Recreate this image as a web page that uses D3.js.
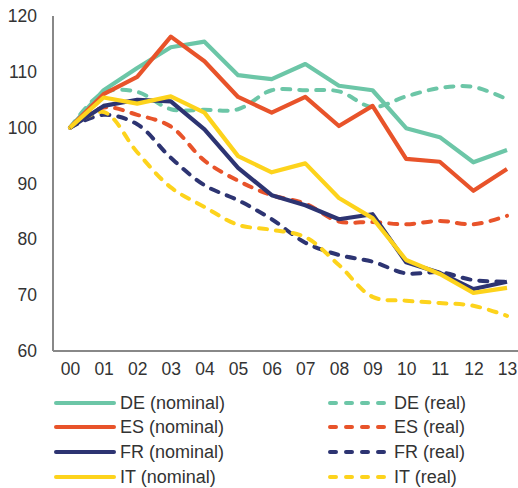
<!DOCTYPE html>
<html>
<head>
<meta charset="utf-8">
<script src="https://cdn.jsdelivr.net/npm/d3@7"></script>
<style>
  body { margin: 0; background: #fff; }
  svg text { font-family: "Liberation Sans", Arial, sans-serif; fill: #333; }
</style>
</head>
<body>
<svg id="chart" width="518" height="488"></svg>
<script>
// years on the x axis
var years = ["00","01","02","03","04","05","06","07","08","09","10","11","12","13"];
var yTicks = [60, 70, 80, 90, 100, 110, 120];

// index, 2000 = 100
var deNominal = [100, 106.7, 110.7, 114.4, 115.4, 109.4, 108.7, 111.4, 107.5, 106.7, 99.9, 98.3, 93.8, 96.0];
var esNominal = [100, 106.0, 109.1, 116.3, 111.9, 105.5, 102.7, 105.5, 100.3, 103.9, 94.4, 93.9, 88.7, 92.6];
var frNominal = [100, 103.9, 105.0, 104.7, 99.7, 92.8, 87.9, 86.1, 83.6, 84.5, 75.9, 74.0, 71.1, 72.4];
var itNominal = [100, 105.4, 104.3, 105.6, 102.7, 94.9, 92.0, 93.6, 87.4, 83.8, 76.3, 73.8, 70.4, 71.3];

var deReal = [100, 106.3, 106.4, 103.3, 103.2, 103.3, 106.7, 106.7, 106.5, 103.7, 105.6, 107.1, 107.3, 105.1];
var esReal = [100, 103.6, 102.3, 100.2, 94.1, 90.5, 87.9, 86.4, 83.2, 83.1, 82.7, 83.3, 82.7, 84.2];
var frReal = [100, 102.3, 100.6, 94.6, 89.7, 87.0, 83.6, 79.4, 77.2, 76.0, 73.9, 74.1, 72.7, 72.4];
var itReal = [100, 102.8, 95.6, 89.3, 85.8, 82.6, 81.7, 80.4, 75.4, 69.7, 69.0, 68.6, 68.1, 66.3];

var seriesNames = ["DE (nominal)", "ES (nominal)", "FR (nominal)", "IT (nominal)",
                   "DE (real)", "ES (real)", "FR (real)", "IT (real)"];
var colors = ["#6cc6a7", "#e8532a", "#2d3472", "#fdd31c"];

var series = [
  {name: seriesNames[0], values: deNominal, color: colors[0], dashed: false},
  {name: seriesNames[1], values: esNominal, color: colors[1], dashed: false},
  {name: seriesNames[2], values: frNominal, color: colors[2], dashed: false},
  {name: seriesNames[3], values: itNominal, color: colors[3], dashed: false},
  {name: seriesNames[4], values: deReal, color: colors[0], dashed: true},
  {name: seriesNames[5], values: esReal, color: colors[1], dashed: true},
  {name: seriesNames[6], values: frReal, color: colors[2], dashed: true},
  {name: seriesNames[7], values: itReal, color: colors[3], dashed: true}
];

var svg = d3.select("#chart");
var axisX = 53;

var x = d3.scaleLinear().domain([0, years.length - 1]).range([70, 507]);
var y = d3.scaleLinear().domain([60, 120]).range([351, 16]);

// axis lines
svg.append("line")
   .attr("x1", axisX).attr("x2", axisX)
   .attr("y1", y(120)).attr("y2", y(60))
   .attr("stroke", "#888").attr("stroke-width", 2);
svg.append("line")
   .attr("x1", axisX).attr("x2", 518)
   .attr("y1", y(60)).attr("y2", y(60))
   .attr("stroke", "#888").attr("stroke-width", 2);

var yAxis = d3.axisLeft(y).tickValues(yTicks).tickSize(0).tickPadding(0);
var gy = svg.append("g")
   .attr("transform", "translate(37,0)")
   .call(yAxis);
gy.select(".domain").remove();
gy.selectAll("text").style("font-size", "17.5px").style("fill", "#333")
  .style("font-family", "Liberation Sans, Arial, sans-serif");

var xAxis = d3.axisBottom(x).tickValues(d3.range(years.length))
              .tickFormat(function(i){ return years[i]; })
              .tickSize(0).tickPadding(0);
var gx = svg.append("g")
   .attr("transform", "translate(0,363)")
   .call(xAxis);
gx.select(".domain").remove();
gx.selectAll("text").style("font-size", "17.5px").style("fill", "#333")
  .style("font-family", "Liberation Sans, Arial, sans-serif");

var lineStraight = d3.line()
    .x(function(d,i){ return x(i); })
    .y(function(d){ return y(d); });
var lineSmooth = d3.line()
    .curve(d3.curveCatmullRom.alpha(0.5))
    .x(function(d,i){ return x(i); })
    .y(function(d){ return y(d); });

// draw real lines first, nominal on top
var drawOrder = [4,5,6,7,0,1,2,3];
drawOrder.forEach(function(k){
  var s = series[k];
  svg.append("path")
     .datum(s.values)
     .attr("fill", "none")
     .attr("stroke", s.color)
     .attr("stroke-width", s.dashed ? 4 : 4.2)
     .attr("stroke-linejoin", "round")
     .attr("stroke-linecap", s.dashed ? "round" : "butt")
     .attr("stroke-dasharray", s.dashed ? "8,9" : null)
     .attr("d", s.dashed ? lineSmooth(s.values) : lineStraight(s.values));
});

// legend
var legendRows = [403, 427, 452, 477];
series.forEach(function(s, k){
  var col = k < 4 ? 0 : 1;
  var row = k % 4;
  var x0 = col == 0 ? 56 : 330;
  var g = svg.append("g");
  g.append("line")
   .attr("x1", x0).attr("x2", x0 + 58)
   .attr("y1", legendRows[row]).attr("y2", legendRows[row])
   .attr("stroke", s.color)
   .attr("stroke-width", 4)
   .attr("stroke-linecap", "round")
   .attr("stroke-dasharray", s.dashed ? "6,10" : null);
  g.append("text")
   .attr("x", x0 + 64)
   .attr("y", legendRows[row])
   .attr("dy", "0.35em")
   .style("font-size", "18px")
   .text(s.name);
});
</script>
</body>
</html>
